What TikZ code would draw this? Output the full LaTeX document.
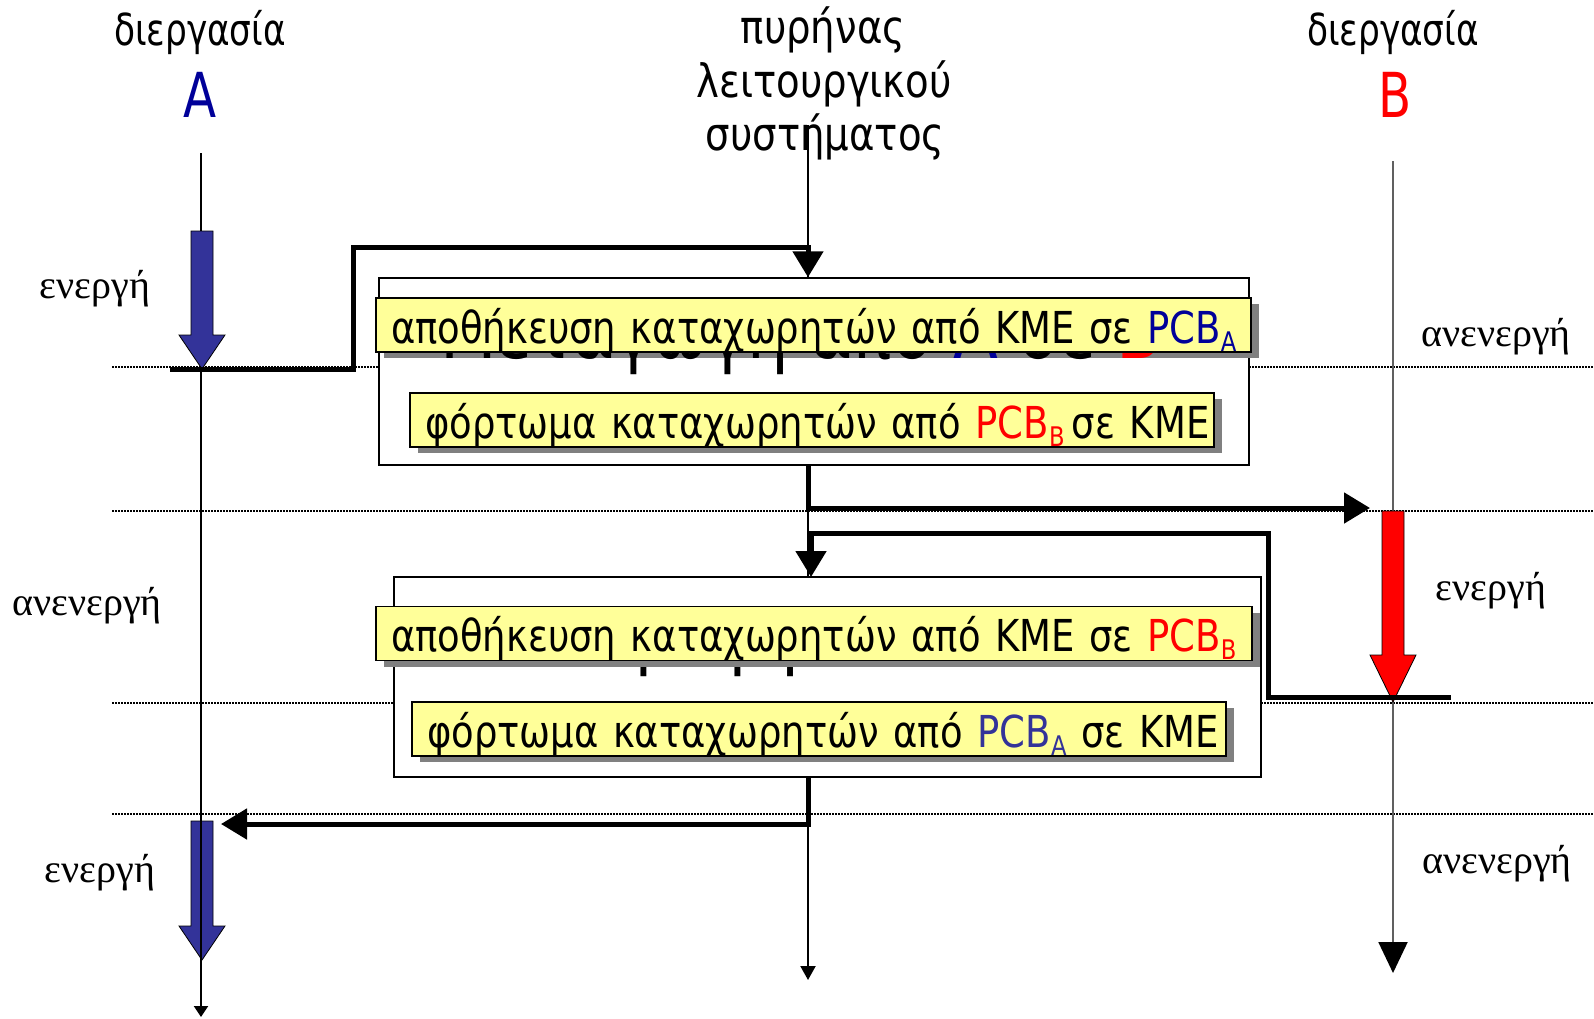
\documentclass[tikz,border=0pt]{standalone}
\usepackage{fontspec}
\setmainfont{Liberation Serif}
\newfontfamily\tah[FakeStretch=0.78]{DejaVu Sans}
\newfontfamily\tahbox[FakeStretch=0.84]{DejaVu Sans}
\usetikzlibrary{arrows.meta,shadows,positioning}

\definecolor{navyA}{RGB}{0,0,153}
\definecolor{procA}{RGB}{51,51,153}
\definecolor{pale}{RGB}{255,255,153}
\definecolor{shade}{RGB}{128,128,128}
\definecolor{axisB}{RGB}{96,96,96}

% PCB with a lowered index
\newcommand\pcb[2]{\textcolor{#1}{PCB\raisebox{-8pt}{\fontsize{27}{27}\selectfont #2}}}
% block arrow of a process: x, top, head start, tip, colour
\newcommand\procarrow[5]{%
  \filldraw[fill=#5, draw=black, line width=0.8pt]
    (#1-11,#2) -- (#1+11,#2) -- (#1+11,#3) -- (#1+23,#3) -- (#1,#4)
    -- (#1-23,#3) -- (#1-11,#3) -- cycle;}

\begin{document}
\begin{tikzpicture}[x=1pt,y=-1pt,
    hdr/.style={font=\tah\fontsize{44}{44}\selectfont, anchor=base},
    krn/.style={font=\tahbox\fontsize{46}{46}\selectfont, anchor=base},
    big/.style={font=\tah\fontsize{62}{62}\selectfont, anchor=base},
    lbl/.style={font=\fontsize{40}{40}\selectfont, anchor=base},
    ghost/.style={font=\tahbox\fontsize{78}{78}\selectfont, anchor=base west, inner sep=0pt},
    frame/.style={draw, fill=white, line width=1.5pt, inner sep=0pt},
    task/.style={draw, fill=pale, line width=1.8pt, inner xsep=15pt, inner ysep=0pt,
      text height=45pt, text depth=9pt, align=left,
      font=\tahbox\fontsize{44}{44}\selectfont,
      drop shadow={shadow xshift=8pt, shadow yshift=-6pt, fill=shade, opacity=1}},
    dotline/.style={line width=1.2pt, dash pattern=on 1.5pt off 1.5pt},
    tl/.style={line width=2pt},
    ctl/.style={line width=5pt, line join=miter, -{Triangle[length=26pt,width=30pt]}}]

\useasboundingbox (0,0) rectangle (1594,1018);

% headers
\node[hdr] (hA) at (200,45) {διεργασία};
\node[big, text=navyA] (nA) at (200,117) {A};
\node[hdr] (hB) at (1393,45) {διεργασία};
\node[big, text=red] (nB) at (1395,117) {B};
\node[krn] (k1) at (823,43) {πυρήνας};
\node[krn] (k2) at (824,97) {λειτουργικού};
\node[krn] (k3) at (825,150) {συστήματος};

% time slices
\foreach \y in {367,511,703,814}
  \draw[dotline] (112,\y) -- (1594,\y);

% time lines
\coordinate (a0) at (201,153);
\coordinate (a1) at (201,1017);
\coordinate (b0) at (1393,161);
\coordinate (b1) at (1393,973);
\coordinate (ktop) at (808,125);
\coordinate (kbot) at (808,980);
\procarrow{202}{821}{926}{960}{procA}
\draw[tl, -{Triangle[length=11pt,width=14pt]}] (a0) -- (a1);
\draw[tl, axisB, -{Triangle[length=31pt,width=29pt,color=black]}] (b0) -- (b1);
\draw[tl, -{Triangle[length=14pt,width=15pt]}] (ktop) -- (kbot);
\procarrow{202}{231}{335}{369}{procA}
\procarrow{1393}{511}{655}{702}{red}

% switch A -> B
\node[frame, minimum width=870pt, minimum height=187pt] (sw1) at (814,371.5) {};
\node[task, text width=845pt] (save1) at (813.5,325)
  {\mbox{αποθήκευση καταχωρητών από ΚΜΕ σε \pcb{navyA}{A}}};
\node[task, text width=774pt] (load1) at (812,420)
  {\mbox{φόρτωμα καταχωρητών από \pcb{red}{B}\,σε ΚΜΕ}};
\begin{scope}
  \clip (380,353) rectangle (1248,400);
  \node[ghost] (ttl1) at (440,358) {Μεταγωγή από \textcolor{navyA}{Α} σε \textcolor{red}{Β}};
\end{scope}

% switch B -> A
\node[frame, minimum width=867pt, minimum height=200pt] (sw2) at (827.5,677) {};
\begin{scope}
  \clip (395,666) rectangle (1260,700);
  \node[ghost] (ttl2) at (450,660) {Μεταγωγή από \textcolor{red}{Β} σε \textcolor{navyA}{Α}};
\end{scope}
\node[task, text width=846pt] (save2) at (814,633.5)
  {\mbox{αποθήκευση καταχωρητών από ΚΜΕ σε \pcb{red}{B}}};
\node[task, text width=784pt] (load2) at (819,729)
  {\mbox{φόρτωμα καταχωρητών από \pcb{procA}{A}\ σε ΚΜΕ}};

% control transfers
\coordinate (endA) at (170,369);
\coordinate (endB) at (1451,697);
\coordinate (bIn) at (1370,508);
\coordinate (kin2) at (811,577);
\coordinate (aIn) at (221,824);
\draw[ctl] (endA) -| (353,247) -| (sw1.north -| ktop);
\draw[ctl] (sw1.south -| ktop) |- (bIn);
\draw[ctl] (endB) -| (1268,533) -| (kin2);
\draw[ctl] (sw2.south -| ktop) |- (aIn);

% states
\node[lbl] (actA1) at (95,298) {ενεργή};
\node[lbl] (idlA) at (87,615) {ανενεργή};
\node[lbl] (actA2) at (100,882) {ενεργή};
\node[lbl] (idlB1) at (1496,346) {ανενεργή};
\node[lbl] (actB) at (1491,600) {ενεργή};
\node[lbl] (idlB2) at (1497,873) {ανενεργή};

\end{tikzpicture}
\end{document}
